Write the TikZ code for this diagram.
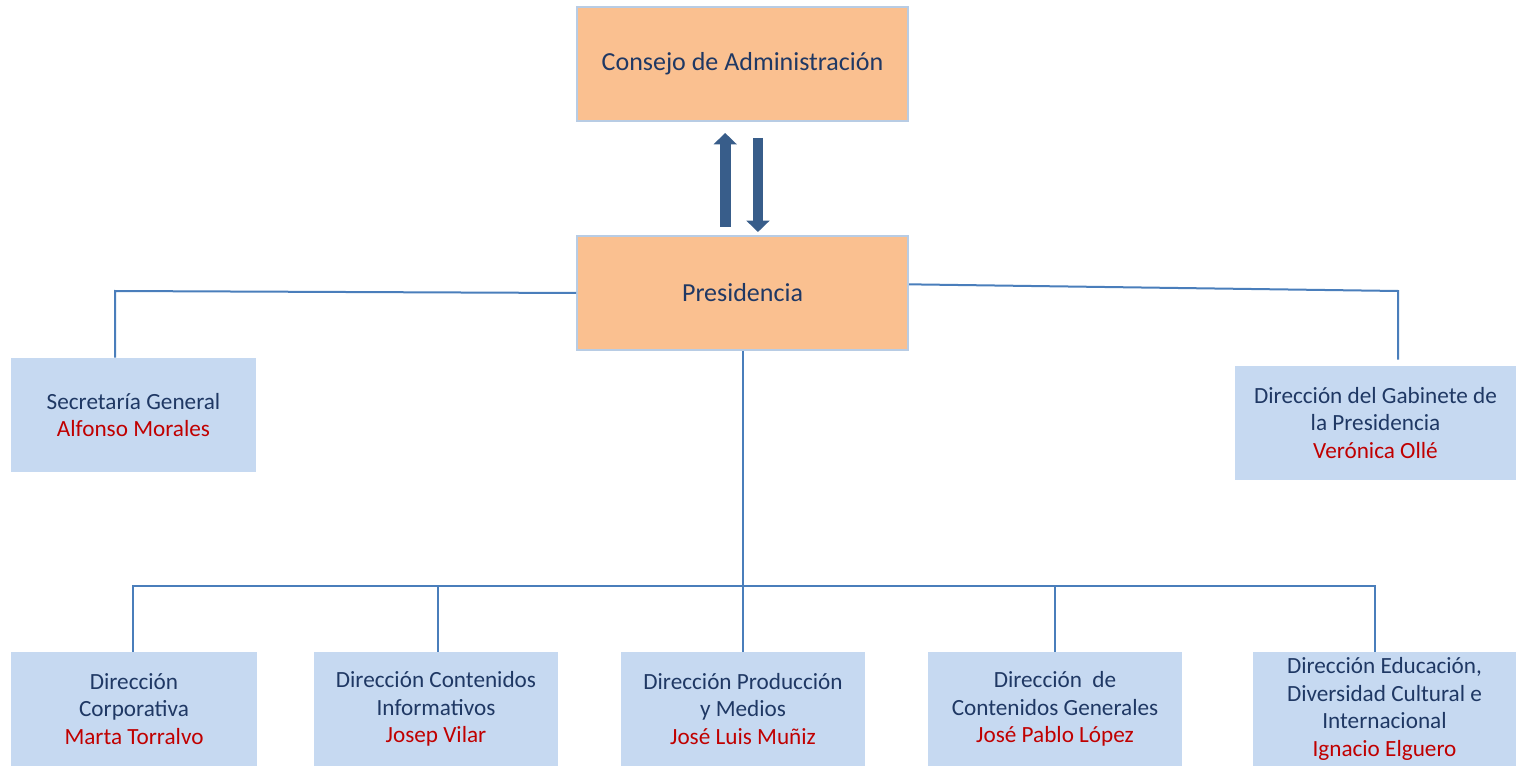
\documentclass[tikz,border=0pt]{standalone}
\usepackage{fontspec}
\setmainfont{Carlito}
\usepackage{xcolor}
\usetikzlibrary{arrows.meta}
\definecolor{peach}{HTML}{FAC090}
\definecolor{paleblue}{HTML}{C6D9F1}
\definecolor{rimblue}{HTML}{B8CCE4}
\definecolor{linkblue}{HTML}{4A7EBB}
\definecolor{arrowblue}{HTML}{385D8A}
\definecolor{navy}{HTML}{1F3864}
\definecolor{namered}{HTML}{C00000}

\begin{document}
\begin{tikzpicture}[x=0.75pt,y=0.75pt,yscale=-1,xscale=1,
  orgbox/.style={draw=rimblue,line width=1.5pt,fill=peach,minimum width=248.25pt,
    minimum height=85.5pt,inner sep=0pt,text=navy,font=\fontsize{19.5}{23}\selectfont},
  dirbox/.style={fill=paleblue,minimum height=85.5pt,inner sep=0pt,align=center,
    text=navy,font=\fontsize{17.4}{20.6}\selectfont},
  link/.style={draw=linkblue,line width=1.5pt},
  bigarrow/.style={draw=arrowblue,line width=8pt,-{Triangle[length=8.5pt,width=17pt]}}]
\useasboundingbox (0,0) rectangle (1516,766);
% top boxes
\node [orgbox] (consejo) at (742.5,64) {Consejo de Administración};
\node [orgbox] (pres) at (742.5,293) {Presidencia};
\draw [bigarrow,shorten <=6pt,shorten >=8.25pt] ([xshift=-13pt]pres.north) -- ([xshift=-13pt]consejo.south);
\draw [bigarrow,shorten <=12pt,shorten >=2.25pt] ([xshift=11.6pt]consejo.south) -- ([xshift=11.6pt]pres.north);
% side boxes
\node [dirbox,minimum width=183.75pt] (secgen) at (133.5,415) {Secretaría General\\\textcolor{namered}{Alfonso Morales}};
\node [dirbox,minimum width=210.75pt] (gab) at (1375.5,423) {Dirección del Gabinete de\\la Presidencia\\\textcolor{namered}{Verónica Ollé}};
\coordinate (lbend) at (115,291);
\coordinate (rbend) at (1398,291);
\draw [link] (pres.west) -- (lbend) -- (lbend |- secgen.north);
\draw [link,shorten >=4.5pt] ([yshift=-6.5pt]pres.east) -- (rbend) -- (rbend |- gab.north);
% bottom boxes
\node [dirbox,minimum width=184.5pt] (d1) at (134,709) {Dirección\\Corporativa\\\textcolor{namered}{Marta Torralvo}};
\node [dirbox,minimum width=183pt] (d2) at (436,709) {Dirección Contenidos\\Informativos\\\textcolor{namered}{Josep Vilar}};
\node [dirbox,minimum width=183pt] (d3) at (743,709) {Dirección Producción\\y Medios\\\textcolor{namered}{José Luis Muñiz}};
\node [dirbox,minimum width=190.5pt] (d4) at (1055,709) {Dirección~ de\\Contenidos Generales\\\textcolor{namered}{José Pablo López}};
\node [dirbox,minimum width=197.25pt] (d5) at (1384.5,709) {Dirección Educación,\\Diversidad Cultural e\\Internacional\\\textcolor{namered}{Ignacio Elguero}};
\coordinate (bus) at (742,586);
\draw [link] (pres.south) -- (pres.south |- d3.north);
\draw [link] ([xshift=-0.75pt]d1.north) |- (bus) -| ([xshift=-7pt]d5.north);
\draw [link] ([xshift=1.5pt]d2.north) -- ([xshift=1.5pt]d2.north |- bus);
\draw [link] (d4.north) -- (d4.north |- bus);
\end{tikzpicture}
\end{document}
